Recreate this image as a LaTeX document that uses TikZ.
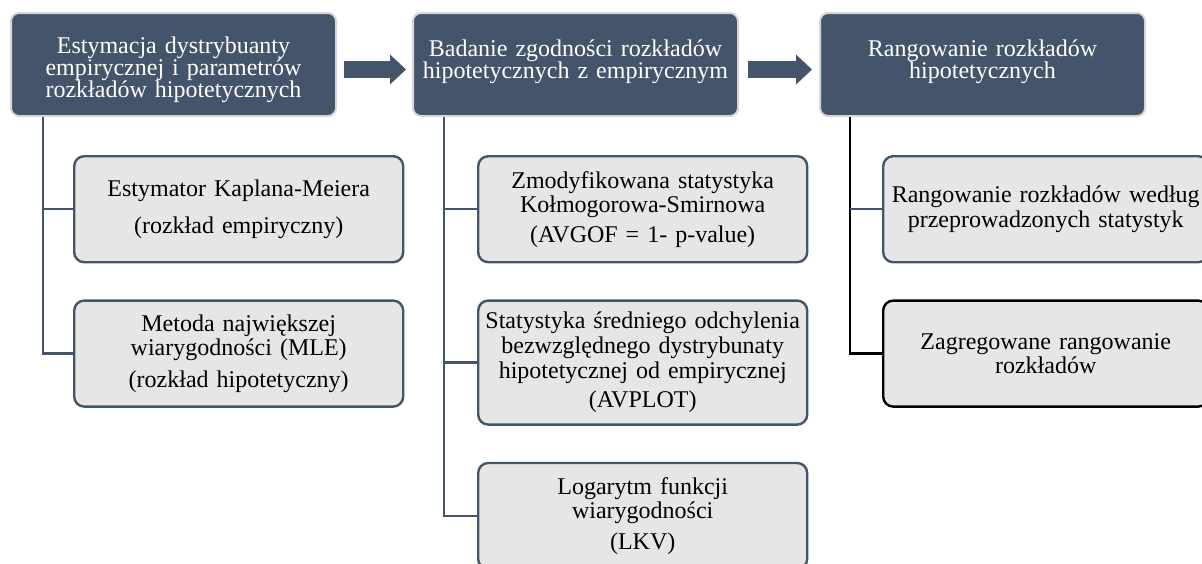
\documentclass[tikz,border=0pt]{standalone}
\usepackage{fontspec}
\setmainfont{Liberation Serif}
\usepackage{xcolor}
\usepackage{tikz}
\usetikzlibrary{arrows.meta,positioning}
\definecolor{corardosia}{RGB}{68,84,106}
\definecolor{corcinza}{RGB}{231,230,230}
\definecolor{corborda}{RGB}{214,214,214}

\begin{document}
\begin{tikzpicture}[
  etapa/.style={rectangle, rounded corners=4pt, fill=corardosia, draw=corborda,
                line width=1pt, text=white, minimum width=162.5pt,
                minimum height=51.5pt, text width=156pt, align=center,
                inner sep=0pt, font=\fontsize{12}{11}\selectfont,
                execute at begin node=\rule{0pt}{14pt}},
  tarefa/.style={rectangle, rounded corners=5pt, fill=corcinza, draw=corardosia,
                 line width=1.2pt, minimum width=164.5pt, minimum height=53pt,
                 text width=160pt, align=center, inner sep=0pt,
                 font=\fontsize{12}{12.3}\selectfont},
  ligacao/.style={draw=corardosia, line width=1.2pt},
  seta/.style={draw=corardosia, line width=8.5pt,
               -{Triangle[length=8pt, width=15pt, line width=0pt]}}
]
  \useasboundingbox (0,0) rectangle (601pt,-281.5pt);

  % etapas
  \node[etapa, anchor=north west] (e1) at (5pt,-6pt)
    {Estymacja dystrybuanty\\empirycznej i parametrów\\rozkładów hipotetycznych};
  \node[etapa, right=37.5pt of e1]
    (e2) {Badanie zgodności rozkładów\\hipotetycznych z empirycznym\\\mbox{}};
  \node[etapa, right=40pt of e2]
    (e3) {Rangowanie rozkładów\\hipotetycznych\\\mbox{}};

  \draw[seta] ([xshift=3.5pt,yshift=-2.5pt]e1.east) -- ([xshift=-3pt,yshift=-2.5pt]e2.west);
  \draw[seta] ([xshift=4.5pt,yshift=-2.5pt]e2.east) -- ([xshift=-3.5pt,yshift=-2.5pt]e3.west);

  % zadania
  \node[tarefa, anchor=north west] (a1) at ([xshift=31.5pt,yshift=-19pt]e1.south west)
    {Estymator Kaplana-Meiera\\[6.5pt](rozkład empiryczny)};
  \node[tarefa, below=18pt of a1]
    (a2) {Metoda największej\\wiarygodności (MLE)\\[3.5pt](rozkład hipotetyczny)};

  \node[tarefa, anchor=north west] (b1) at ([xshift=32.5pt,yshift=-19pt]e2.south west)
    {Zmodyfikowana statystyka\\Kołmogorowa-Smirnowa\\[2.5pt](AVGOF = 1- p-value)};
  \node[tarefa, minimum height=62pt, below=18pt of b1]
    (b2) {Statystyka średniego odchylenia\\bezwzględnego dystrybunaty\\hipotetycznej od empirycznej\\[2.5pt](AVPLOT)};
  \node[tarefa, below=18pt of b2]
    (b3) {Logarytm funkcji\\wiarygodności\\[3pt](LKV)};

  \node[tarefa, minimum width=162.5pt, anchor=north west] (r1) at ([xshift=31.5pt,yshift=-19pt]e3.south west)
    {Rangowanie rozkładów według\\przeprowadzonych statystyk};
  \node[tarefa, minimum width=162.5pt, draw=black, below=18pt of r1]
    (r2) {Zagregowane rangowanie\\rozkładów};

  % linie
  \coordinate (v1) at ([xshift=16.5pt]e1.south west);
  \coordinate (v2) at ([xshift=16pt]e2.south west);
  \coordinate (v3) at ([xshift=15.5pt]e3.south west);
  \draw[ligacao] (v1) |- (a2.west);
  \draw[ligacao] (v1 |- a1.west) -- (a1.west);
  \draw[ligacao] (v2) |- (b3.west);
  \draw[ligacao] (v2 |- b1.west) -- (b1.west);
  \draw[ligacao] (v2 |- b2.west) -- (b2.west);
  \draw[ligacao, draw=black] (v3) |- (r2.west);
  \draw[ligacao] (v3 |- r1.west) -- (r1.west);
\end{tikzpicture}
\end{document}
